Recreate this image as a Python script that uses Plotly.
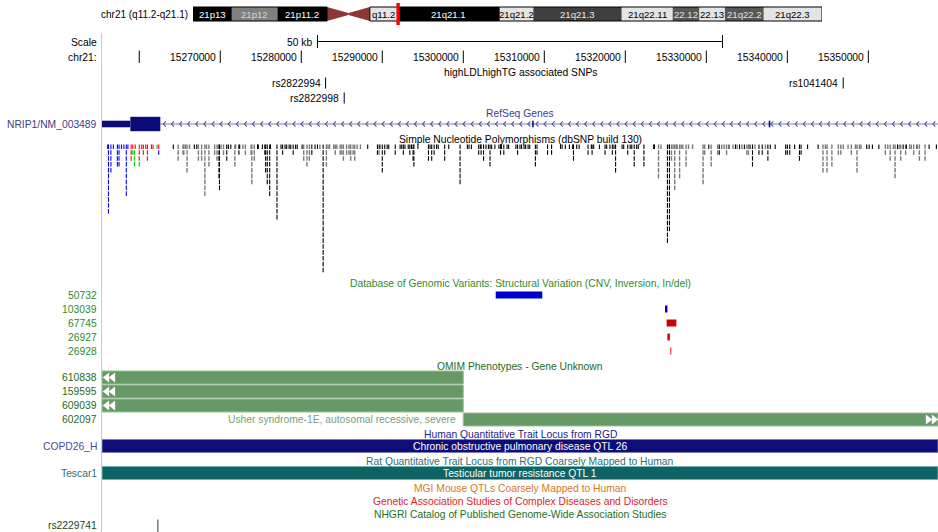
import numpy as np
import plotly.graph_objects as go

# ------------------------------------------------------------------ data
chrom_len_mb = 46.944323
view_start_bp = 15255400
view_end_bp = 15358600
position_label = "chr21 (q11.2-q21.1)"

band_start_mb = [0.0, 2.9, 6.3, 10.0, 11.6, 13.2, 15.3, 22.9, 25.4, 32.0, 35.8, 37.8, 39.7, 42.6]
band_end_mb = [2.9, 6.3, 10.0, 11.6, 13.2, 15.3, 22.9, 25.4, 32.0, 35.8, 37.8, 39.7, 42.6, 46.944323]
band_label = ["21p13", "21p12", "21p11.2", "", "", "q11.2", "21q21.1", "21q21.2", "21q21.3",
              "21q22.11", "22.12", "22.13", "21q22.2", "21q22.3"]
band_stain = ["gvar", "stalk", "gvar", "acen", "acen", "gneg", "gpos100", "gneg", "gpos75",
              "gneg", "gpos50", "gneg", "gpos50", "gneg"]

ruler_tick_bp = [15260000, 15270000, 15280000, 15290000, 15300000,
                 15310000, 15320000, 15330000, 15340000, 15350000]
ruler_tick_label = ["", "15270000", "15280000", "15290000", "15300000",
                    "15310000", "15320000", "15330000", "15340000", "15350000"]
scale_bar_kb = 50

highld_name = ["rs2822994", "rs2822998", "rs1041404"]
highld_pos_kb = [15283.0, 15285.3, 15346.9]
highld_row = [0, 1, 0]

gene_label = "NRIP1/NM_003489"
gene_utr_end_kb = 15258.9
gene_cds_kb = [15258.9, 15262.6]
gene_small_exon_kb = [15308.6, 15337.8]

# dbSNP 130 - columns of stacked SNPs: position (kb), first row, number of rows
utr_pos_kb = [15256.1, 15256.2, 15256.5, 15256.8, 15257.3, 15257.5, 15257.8, 15258.1, 15258.4, 15258.6, 15262.4]
utr_first = [0, 0, 0, 0, 0, 0, 0, 0, 0, 0, 1]
utr_depth = [1, 12, 5, 1, 4, 4, 1, 1, 9, 1, 1]

nonsyn_pos_kb = [15259.0, 15259.2, 15259.5, 15260.0, 15260.3, 15260.5, 15260.8, 15261.0, 15261.5, 15261.7, 15262.4]
nonsyn_first = [0, 0, 0, 0, 0, 0, 0, 0, 0, 0, 0]
nonsyn_depth = [3, 1, 1, 3, 1, 2, 1, 3, 1, 1, 1]

syn_pos_kb = [15259.2, 15259.4, 15260.0, 15262.2]
syn_first = [1, 1, 3, 0]
syn_depth = [1, 3, 1, 1]

intron_pos_kb = [15264.8, 15265.4, 15265.5, 15265.7, 15265.9, 15266.2, 15267.3, 15267.7, 15268.1, 15268.3,
                 15268.6, 15269.3, 15269.6, 15269.8, 15270.1, 15270.4, 15271.8, 15271.9, 15272.8, 15273.1,
                 15273.8, 15273.9, 15274.2, 15280.3, 15280.7, 15281.0, 15282.3, 15283.1, 15283.3, 15283.5,
                 15284.0, 15284.2, 15284.4, 15284.8, 15285.0, 15285.2, 15285.6, 15285.9, 15286.1, 15286.4,
                 15286.6, 15286.9, 15287.3, 15289.6,
                 15324.1, 15324.4, 15325.4, 15325.7, 15325.9, 15326.1, 15326.3, 15326.4, 15326.7, 15326.9,
                 15327.1, 15327.5, 15327.8, 15328.3, 15329.6, 15329.8, 15330.6, 15331.4, 15331.9, 15332.2,
                 15332.5, 15333.3, 15333.8, 15334.4, 15335.0, 15335.2, 15336.0, 15337.3, 15344.4, 15344.7,
                 15344.9, 15345.5, 15346.3, 15346.6, 15346.9, 15347.5, 15347.9, 15348.4, 15348.6, 15348.9,
                 15349.1, 15352.1, 15352.4, 15352.7, 15353.1, 15353.3, 15353.8, 15354.0, 15354.6, 15355.1,
                 15355.3, 15355.6, 15356.3, 15357.0]
intron_depth = [3, 2, 2, 1, 5, 1, 3, 3, 9, 1,
                4, 2, 3, 6, 1, 2, 4, 1, 1, 2,
                2, 7, 3, 3, 4, 3, 1, 4, 1, 1,
                1, 2, 1, 2, 2, 3, 2, 2, 3, 2,
                3, 1, 1, 2,
                6, 1, 1, 3, 1, 8, 1, 1, 6, 1,
                1, 4, 1, 1, 7, 2, 4, 2, 1, 1,
                2, 1, 1, 1, 2, 2, 1, 1, 5, 1,
                5, 4, 2, 2, 1, 1, 2, 1, 5, 1,
                1, 2, 1, 3, 1, 6, 1, 3, 2, 1,
                1, 2, 3, 3]

locus_pos_kb = [15264.2, 15266.8, 15267.1, 15269.9, 15270.8, 15271.0, 15271.3, 15272.3, 15272.4, 15274.6,
                15274.7, 15275.2, 15275.5, 15275.6, 15275.8, 15276.1, 15276.2, 15277.0, 15277.5, 15277.7,
                15278.0, 15278.2, 15278.5, 15278.7, 15279.0, 15279.3, 15279.5, 15280.1, 15281.3, 15281.7,
                15282.0, 15282.7, 15288.2,
                15289.4, 15289.7, 15290.0, 15290.3, 15290.6, 15290.8, 15291.6, 15292.2, 15292.4, 15292.6,
                15292.8, 15293.2, 15293.4, 15293.6, 15293.8, 15293.9, 15294.4, 15295.7, 15295.9, 15296.1,
                15296.4, 15296.7, 15296.9, 15297.7, 15298.2, 15299.6, 15300.5, 15300.7, 15301.0, 15301.9,
                15302.1, 15302.2, 15302.5, 15302.8, 15303.1, 15303.3, 15303.5, 15303.9, 15304.4, 15304.6,
                15304.7, 15305.0, 15305.4, 15305.6, 15306.5, 15306.7, 15307.0, 15307.2, 15307.5, 15307.7,
                15308.0, 15308.2, 15308.9, 15309.1, 15310.4, 15310.9, 15312.0, 15312.2, 15312.6, 15313.1,
                15313.5, 15313.6, 15314.0, 15314.3, 15315.4, 15315.8, 15315.9, 15316.1, 15316.8, 15317.5,
                15317.7, 15318.1, 15318.4, 15318.6, 15318.8, 15319.6, 15319.8, 15320.3, 15320.6, 15320.8,
                15321.1, 15321.4, 15321.6, 15322.3, 15323.5,
                15323.6, 15325.2, 15325.45, 15330.3, 15331.6, 15332.8, 15333.6, 15334.1, 15334.7, 15335.4,
                15335.7, 15336.5, 15336.9, 15337.6, 15337.9, 15338.5, 15339.8, 15340.0, 15340.3, 15340.9,
                15341.5, 15341.7, 15342.5, 15343.8, 15349.8, 15350.1, 15350.5, 15351.3, 15353.6, 15354.3,
                15354.7, 15356.0, 15357.5, 15358.4]
locus_depth = [1, 1, 1, 8, 3, 1, 1, 2, 1, 1,
               1, 1, 2, 5, 7, 9, 1, 13, 1, 2,
               1, 1, 1, 1, 2, 1, 1, 1, 2, 1,
               1, 22, 1,
               2, 1, 5, 2, 1, 1, 2, 1, 1, 2,
               1, 1, 2, 1, 3, 4, 1, 3, 1, 3,
               2, 1, 1, 3, 1, 7, 1, 1, 1, 2,
               1, 2, 3, 1, 1, 4, 1, 1, 1, 2,
               1, 2, 1, 1, 1, 2, 1, 1, 1, 1,
               1, 1, 4, 2, 2, 2, 1, 1, 1, 1,
               1, 3, 1, 1, 2, 1, 2, 1, 1, 2,
               1, 1, 2, 1, 5, 1, 1, 2, 1, 1,
               4, 1, 1, 4, 1,
               1, 17, 15, 1, 2, 1, 1, 1, 1, 1,
               4, 2, 2, 3, 1, 1, 2, 2, 2, 1,
               3, 2, 1, 1, 1, 1, 1, 1, 1, 1,
               1, 1, 1, 1]

dgv_id = ["50732", "103039", "67745", "26927", "26928"]
dgv_start_kb = [15304.0, 15324.9, 15325.1, 15325.2, 15325.5]
dgv_end_kb = [15309.75, 15325.2, 15326.3, 15325.5, 15325.7]
dgv_type = ["gain", "gain", "loss", "loss", "loss_light"]

omim_id = ["610838", "159595", "609039", "602097"]
omim_start_kb = [13200.0, 13200.0, 13200.0, 15300.0]
omim_end_kb = [15300.0, 15300.0, 15300.0, 22900.0]
omim_desc = ["", "", "", "Usher syndrome-1E, autosomal recessive, severe"]

rgd_human_id = "COPD26_H"
rgd_human_desc = "Chronic obstructive pulmonary disease QTL 26"
rgd_human_kb = [12000.0, 25000.0]
rgd_rat_id = "Tescar1"
rgd_rat_desc = "Testicular tumor resistance QTL 1"
rgd_rat_kb = [12000.0, 25000.0]

gwas_name = ["rs2229741"]
gwas_pos_kb = [15262.3]

# ------------------------------------------------------------------ style / layout
W, H = 938, 532
DATA_X0 = 102
BPP = (view_end_bp - view_start_bp) / (W - DATA_X0)   # bp per pixel
FONT = "Liberation Sans, Arial, Helvetica, sans-serif"
FS = 10.3
LABEL_X = 97.5 / W
CENTER_X = (view_start_bp + view_end_bp) / 2

fig = go.Figure()
shapes = []
ann = []


def text(x, y, s, color="black", xanchor="center", xref="x", size=FS):
    ann.append(dict(x=x, y=y, xref=xref, yref="y", text=s, showarrow=False,
                    xanchor=xanchor, yanchor="middle", borderpad=0,
                    font=dict(family=FONT, size=size, color=color)))


def left_label(y, s, color):
    text(LABEL_X, y, s, color=color, xanchor="right", xref="paper")


def rect(x0, x1, y0, y1, fill, line=None, xref="x", lw=1, layer="below"):
    shapes.append(dict(type="rect", xref=xref, yref="y", x0=x0, x1=x1, y0=y0, y1=y1,
                       fillcolor=fill, line=dict(width=lw if line else 0, color=line or fill),
                       layer=layer))


def clip(bp):
    return min(max(bp, view_start_bp), view_end_bp)


def segs(xs, y0s, y1s):
    X, Y = [], []
    for x, a, b in zip(xs, y0s, y1s):
        X += [x, x, None]
        Y += [a, b, None]
    return X, Y


# ---------------- ideogram (x2 axis, Mb)
stain_fill = {"gvar": "#000000", "stalk": "#808080", "gneg": "#e4e4e4", "gpos100": "#000000",
              "gpos75": "#3f3f3f", "gpos50": "#575757", "acen": "#8e3636"}
stain_text = {"gvar": "#ffffff", "stalk": "#d4d4d4", "gneg": "#000000", "gpos100": "#ffffff",
              "gpos75": "#e8e8e8", "gpos50": "#e0e0e0", "acen": "#ffffff"}
IT, IB = 7, 21
IM = (IT + IB) / 2
for s, e, lab, st in zip(band_start_mb, band_end_mb, band_label, band_stain):
    if st == "acen":
        continue
    rect(s, e, IT, IB, stain_fill[st], xref="x2", layer="above")
    if lab:
        text((s + e) / 2, IM, lab, color=stain_text[st], xref="x2", size=9.6)
acen = [i for i, st in enumerate(band_stain) if st == "acen"]
a0, a1 = acen
shapes.append(dict(type="path", xref="x2", yref="y",
                   path=f"M {band_start_mb[a0]},{IT} L {band_end_mb[a0]},{IM-1} L {band_end_mb[a0]},{IM+1} "
                        f"L {band_start_mb[a0]},{IB} Z",
                   fillcolor=stain_fill["acen"], line=dict(width=0), layer="above"))
shapes.append(dict(type="path", xref="x2", yref="y",
                   path=f"M {band_start_mb[a1]},{IM-1} L {band_end_mb[a1]},{IT} L {band_end_mb[a1]},{IB} "
                        f"L {band_start_mb[a1]},{IM+1} Z",
                   fillcolor=stain_fill["acen"], line=dict(width=0), layer="above"))
rect(band_start_mb[0], band_start_mb[a0], IT, IB, "rgba(0,0,0,0)", line="#000000", xref="x2", layer="above")
rect(band_end_mb[a1], band_end_mb[-1], IT, IB, "rgba(0,0,0,0)", line="#000000", xref="x2", layer="above")
rect(view_start_bp / 1e6, view_end_bp / 1e6, IT - 3, IB + 3, "#ff0000", line="#ff0000", xref="x2", lw=2,
     layer="above")
text(188.5 / W, IM, position_label, xanchor="right", xref="paper", size=10)
fig.add_trace(go.Scatter(x=[band_start_mb[0]], y=[IM], xaxis="x2", yaxis="y", mode="markers",
                         marker=dict(opacity=0), hoverinfo="skip"))

# pink guideline
shapes.append(dict(type="line", xref="paper", yref="y", x0=101.5 / W, x1=101.5 / W, y0=33, y1=H,
                   line=dict(color="#ffb4b4", width=1), layer="below"))

# ---------------- scale bar and ruler
left_label(42.5, "Scale", "black")
left_label(57.5, "chr21:", "black")
sb0 = CENTER_X - scale_bar_kb * 500
sb1 = CENTER_X + scale_bar_kb * 500
X, Y = segs([sb0, sb1], [35, 35], [48, 48])
X += [sb0, sb1, None]
Y += [41.5, 41.5, None]
fig.add_trace(go.Scatter(x=X, y=Y, mode="lines", line=dict(color="black", width=1), hoverinfo="skip"))
text(sb0 - 4 * BPP, 42, f"{scale_bar_kb} kb", xanchor="right")

X, Y = segs(ruler_tick_bp, [50.5] * len(ruler_tick_bp), [63] * len(ruler_tick_bp))
fig.add_trace(go.Scatter(x=X, y=Y, mode="lines", line=dict(color="black", width=1), hoverinfo="skip"))
for t, lab in zip(ruler_tick_bp, ruler_tick_label):
    if lab:
        text(t - 3 * BPP, 57.5, lab, xanchor="right")

# ---------------- highLDLhighTG SNPs
text(CENTER_X, 72, "highLDLhighTG associated SNPs")
hy = [83 + 15 * r for r in highld_row]
hx = [p * 1000 for p in highld_pos_kb]
X, Y = segs(hx, [y - 5.5 for y in hy], [y + 5.5 for y in hy])
fig.add_trace(go.Scatter(x=X, y=Y, mode="lines", line=dict(color="black", width=1), hoverinfo="skip"))
for n, x, y in zip(highld_name, hx, hy):
    text(x - 4 * BPP, y, n, xanchor="right")

# ---------------- RefSeq genes
NAVY = "#0c0c78"
text(CENTER_X, 113, "RefSeq Genes", color="#3c3c9a")
left_label(124.5, gene_label, "#3c3c8c")
GY = 124
intr0 = gene_cds_kb[1] * 1000
fig.add_trace(go.Scatter(x=[intr0, view_end_bp], y=[GY, GY], mode="lines",
                         line=dict(color="#7a7ab8", width=1), hoverinfo="skip"))
cx = np.arange(intr0 + 3 * BPP, view_end_bp, 8.1 * BPP)
X, Y = [], []
for c in cx:
    X += [c + 2.5 * BPP, c, c + 2.5 * BPP, None]
    Y += [GY - 2.6, GY, GY + 2.6, None]
fig.add_trace(go.Scatter(x=X, y=Y, mode="lines", line=dict(color="#5454a8", width=1.1), hoverinfo="skip"))
rect(view_start_bp, gene_utr_end_kb * 1000, GY - 3.3, GY + 3.3, NAVY, layer="above")
rect(gene_cds_kb[0] * 1000, gene_cds_kb[1] * 1000, GY - 7.2, GY + 7.2, NAVY, layer="above")
for e in gene_small_exon_kb:
    rect(e * 1000 - 0.8 * BPP, e * 1000 + 0.8 * BPP, GY - 3.3, GY + 3.3, NAVY, layer="above")

# ---------------- dbSNP
text(CENTER_X, 139, "Simple Nucleotide Polymorphisms (dbSNP build 130)")
ROW0, ROWH = 146.7, 5.87
snp_sets = [
    (intron_pos_kb, [0] * len(intron_pos_kb), intron_depth, "#7a7a7a", 1.4),
    (locus_pos_kb, [0] * len(locus_pos_kb), locus_depth, "#000000", 1.1),
    (utr_pos_kb, utr_first, utr_depth, "#0000ff", 1.1),
    (nonsyn_pos_kb, nonsyn_first, nonsyn_depth, "#ff0000", 1.1),
    (syn_pos_kb, syn_first, syn_depth, "#00cc00", 1.1),
]
for pos, first, depth, col, lw in snp_sets:
    X, Y = [], []
    for p, f, d in zip(pos, first, depth):
        for r in range(f, f + d):
            yc = ROW0 + r * ROWH
            X += [p * 1000, p * 1000, None]
            Y += [yc - 2.3, yc + 2.3, None]
    fig.add_trace(go.Scatter(x=X, y=Y, mode="lines", line=dict(color=col, width=lw), hoverinfo="skip"))

# ---------------- DGV
DGVG = "#2f8a2f"
text(CENTER_X, 283, "Database of Genomic Variants: Structural Variation (CNV, Inversion, In/del)", color=DGVG)
dgv_color = {"gain": "#0000cc", "loss": "#cc0000", "loss_light": "#e06666"}
for i, (d, s, e, t) in enumerate(zip(dgv_id, dgv_start_kb, dgv_end_kb, dgv_type)):
    y = 295 + 14 * i
    left_label(y, d, DGVG)
    x0, x1 = s * 1000, e * 1000
    if x1 - x0 < 1.5 * BPP:
        x1 = x0 + 1.5 * BPP
    rect(x0, x1, y - 3.5, y + 3.5, dgv_color[t])

# ---------------- OMIM
OMIMG = "#1e6a1e"
text(CENTER_X, 366.5, "OMIM Phenotypes - Gene Unknown", color=OMIMG)
OFILL = "#669966"
tri_l, tri_r = [], []
for i, (oid, s, e, desc) in enumerate(zip(omim_id, omim_start_kb, omim_end_kb, omim_desc)):
    yc = 377.5 + 14 * i
    left_label(yc, oid, OMIMG)
    x0, x1 = clip(s * 1000), clip(e * 1000)
    rect(x0, x1, yc - 6.5, yc + 6.5, OFILL, line="#9cbf9c")
    if s * 1000 < view_start_bp:
        tri_l.append(yc)
    if e * 1000 > view_end_bp:
        tri_r.append(yc)
    if desc:
        text(x0 - 6 * BPP, yc, desc, color="#78a078", xanchor="right")
tx, ty = [], []
for yc in tri_l:
    tx += [view_start_bp + 5 * BPP, view_start_bp + 11 * BPP]
    ty += [yc, yc]
fig.add_trace(go.Scatter(x=tx, y=ty, mode="markers", hoverinfo="skip", cliponaxis=False,
                         marker=dict(symbol="triangle-left", size=8.5, color="white", line=dict(width=0))))
tx, ty = [], []
for yc in tri_r:
    tx += [view_end_bp - 10 * BPP, view_end_bp - 4 * BPP]
    ty += [yc, yc]
fig.add_trace(go.Scatter(x=tx, y=ty, mode="markers", hoverinfo="skip", cliponaxis=False,
                         marker=dict(symbol="triangle-right", size=8.5, color="white", line=dict(width=0))))

# ---------------- RGD human QTL
text(CENTER_X, 434.5, "Human Quantitative Trait Locus from RGD", color="#1c1c8c")
left_label(446, rgd_human_id, "#4a4aa4")
rect(clip(rgd_human_kb[0] * 1000), clip(rgd_human_kb[1] * 1000), 439.5, 452.5, "#0e0e78", line="#7a7ab8")
text(CENTER_X, 446, rgd_human_desc, color="white")

# ---------------- RGD rat QTL
text(CENTER_X, 461.5, "Rat Quantitative Trait Locus from RGD Coarsely Mapped to Human", color="#2a7272")
left_label(473, rgd_rat_id, "#2a7474")
rect(clip(rgd_rat_kb[0] * 1000), clip(rgd_rat_kb[1] * 1000), 466.5, 479.5, "#0e6464", line="#7ab0b0")
text(CENTER_X, 473, rgd_rat_desc, color="white")

# ---------------- other tracks
text(CENTER_X, 488.5, "MGI Mouse QTLs Coarsely Mapped to Human", color="#d8782a")
text(CENTER_X, 501.5, "Genetic Association Studies of Complex Diseases and Disorders", color="#e41c24")
text(CENTER_X, 514.5, "NHGRI Catalog of Published Genome-Wide Association Studies", color="#1e6e1e")
for n, p in zip(gwas_name, gwas_pos_kb):
    left_label(525.5, n, "#204820")
X, Y = segs([p * 1000 for p in gwas_pos_kb], [519.5] * len(gwas_pos_kb), [533] * len(gwas_pos_kb))
fig.add_trace(go.Scatter(x=X, y=Y, mode="lines", line=dict(color="#204820", width=1), hoverinfo="skip"))

fig.update_layout(
    width=W, height=H, margin=dict(l=0, r=0, t=0, b=0),
    paper_bgcolor="white", plot_bgcolor="rgba(0,0,0,0)", showlegend=False,
    xaxis=dict(domain=[DATA_X0 / W, 1], range=[view_start_bp, view_end_bp], visible=False, fixedrange=True),
    xaxis2=dict(domain=[193 / W, 822 / W], range=[0, chrom_len_mb], visible=False, anchor="y", fixedrange=True),
    yaxis=dict(domain=[0, 1], range=[H, 0], visible=False, fixedrange=True),
    shapes=shapes, annotations=ann,
)
fig.write_html("out.html", config={"displayModeBar": False, "staticPlot": True},
               post_script="document.body.style.margin='0px';document.body.style.overflow='hidden';")
